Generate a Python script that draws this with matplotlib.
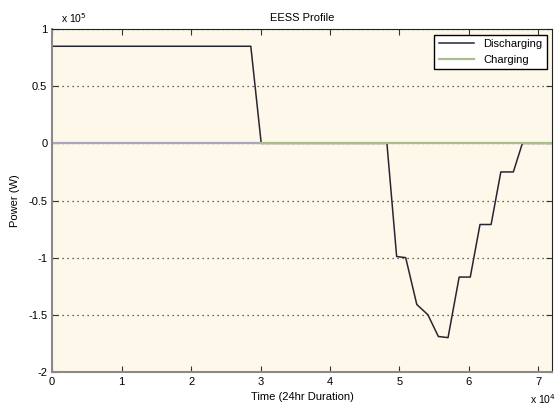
import matplotlib
matplotlib.use('Agg')
import matplotlib.pyplot as plt
from matplotlib.ticker import FuncFormatter

plt.rcParams['font.family'] = ['Liberation Sans', 'DejaVu Sans']

# --- data (seconds, watts) ---
dis_t = [0, 28600, 30100, 48200, 49600, 50900, 52500, 54100, 55600, 57000,
         58600, 60200, 61600, 63200, 64600, 66400, 67700, 72000]
dis_p = [85000, 85000, 0, 0, -99000, -100000, -141000, -150000, -169000, -170000,
         -117000, -117000, -71000, -71000, -25000, -25000, 0, 0]

chg_t = [30100, 72000]
chg_p = [0, 0]

base_t = [0, 30100]
base_p = [0, 0]

x_ticks = [0, 1, 2, 3, 4, 5, 6, 7]
y_ticks = [1, 0.5, 0, -0.5, -1, -1.5, -2]

fig = plt.figure(figsize=(5.55, 4.16), dpi=100)
ax = fig.add_axes([0.094, 0.106, 0.901, 0.824])
ax.set_facecolor('#fdf8e9')

ax.plot(base_t, base_p, color='#a9a6bd', lw=1.6, label='_nolegend_')
ax.plot(dis_t, dis_p, color='#262633', lw=1.1, label='Discharging')
ax.plot(chg_t, chg_p, color='#a9be8c', lw=1.6, label='Charging')

ax.set_xlim(0, 72000)
ax.set_ylim(-200000, 100000)
ax.set_xticks([v * 1e4 for v in x_ticks])
ax.set_yticks([v * 1e5 for v in y_ticks])
ax.xaxis.set_major_formatter(FuncFormatter(lambda v, p: '%g' % (v / 1e4)))
ax.yaxis.set_major_formatter(FuncFormatter(lambda v, p: '%g' % (v / 1e5)))
ax.tick_params(direction='in', top=True, right=True, labelsize=8, length=4, color='#333333')

ax.yaxis.grid(True, linestyle=(0, (1, 3)), color='#333333', lw=0.9)
for s in ['left', 'bottom']:
    ax.spines[s].set_color('#8a8a8a')
    ax.spines[s].set_linewidth(1.5)
for s in ['top', 'right']:
    ax.spines[s].set_color('#222222')

ax.set_title('EESS Profile', fontsize=8, pad=6)
ax.set_xlabel('Time (24hr Duration)', fontsize=8, labelpad=4)
ax.set_ylabel('Power (W)', fontsize=8, labelpad=6)

fig.text(0.11, 0.945, 'x 10$^5$', fontsize=7.5)
fig.text(0.955, 0.03, 'x 10$^4$', fontsize=7.5)

leg = ax.legend(loc='upper right', fontsize=8, fancybox=False, framealpha=1,
                edgecolor='black', handlelength=3.2, borderaxespad=0.5)
leg.get_frame().set_linewidth(1.0)

fig.savefig('out.png', dpi=100)
